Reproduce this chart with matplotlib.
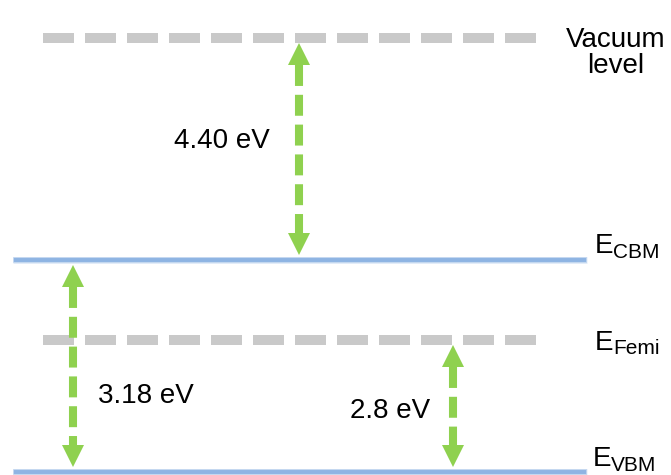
import numpy as np
import matplotlib
matplotlib.use('Agg')
import matplotlib.pyplot as plt

plt.rcParams['font.family'] = ['Liberation Sans', 'DejaVu Sans']

# gaps as printed on the diagram (eV)
gap_text = ['4.40', '3.18', '2.8']
work_fn, band_gap, fermi_above_vbm = [float(t) for t in gap_text]

# band edges, vacuum level taken as zero
e_vac = 0.0
e_cbm = e_vac - work_fn
e_vbm = e_cbm - band_gap
e_fermi = e_vbm + fermi_above_vbm

level_subs = ['CBM', 'Femi', 'VBM']

# the sketch is not to scale: piecewise stretch from eV to pixel height
e_knots = np.array([e_vbm - 0.064, e_vbm, e_fermi, e_cbm, e_vac, e_vac + 0.753])
px_knots = np.array([0, 3, 135, 215, 437, 475])


def fwd(e):
    return np.interp(e, e_knots, px_knots)


def inv(p):
    return np.interp(p, px_knots, e_knots)


def at(e, dpx):
    # energy that sits dpx pixels above level e on the page
    return inv(fwd(e) + dpx)


gray = '#C9C9C9'
blue = '#8EB4E3'
green = '#8FD14F'

fig = plt.figure(figsize=(6.71, 4.75), dpi=100)
ax = fig.add_axes([0, 0, 1, 1])
ax.set_yscale('function', functions=(fwd, inv))
ax.set_xlim(0, 671)
ax.set_ylim(e_knots[0], e_knots[-1])
ax.axis('off')

# dashed grey levels (vacuum, Fermi)
for e in (e_vac, e_fermi):
    ax.plot([43, 536], [e, e], color=gray, lw=7.2, dashes=(3.1, 1.1),
            dash_capstyle='butt', zorder=2)

# band edges, soft edged
for e in (e_cbm, e_vbm):
    for lw, a in ((5.0, 0.25), (4.0, 0.45)):
        ax.plot([13, 587], [e, e], color=blue, lw=lw, alpha=a,
                solid_capstyle='butt', zorder=2)
    ax.plot([14, 586], [e, e], color=blue, lw=2.8,
            solid_capstyle='butt', zorder=2)


def double_arrow(x, e_top, e_bot, gap=5, head_len=22, half_w=11):
    y_top = fwd(e_top) - gap
    y_bot = fwd(e_bot) + gap
    ax.plot([x, x], inv(np.array([y_top - head_len, y_bot + head_len])),
            color=green, lw=5.8, dashes=(2.6, 1.1), dash_capstyle='butt',
            zorder=3)
    ax.fill([x, x - half_w, x + half_w],
            inv(np.array([y_top, y_top - head_len, y_top - head_len])),
            color=green, lw=0, zorder=4)
    ax.fill([x, x - half_w, x + half_w],
            inv(np.array([y_bot, y_bot + head_len, y_bot + head_len])),
            color=green, lw=0, zorder=4)
    return (y_top + y_bot) / 2


fs = 20
mid = double_arrow(299, e_vac, e_cbm)
ax.text(270, inv(mid + 1), gap_text[0] + ' eV', fontsize=fs,
        ha='right', va='baseline')

mid = double_arrow(73, e_cbm, e_vbm)
ax.text(98, inv(mid - 37), gap_text[1] + ' eV', fontsize=fs,
        ha='left', va='baseline')

mid = double_arrow(453, e_fermi, e_vbm)
ax.text(430, inv(mid - 12), gap_text[2] + ' eV', fontsize=fs,
        ha='right', va='baseline')

# level names on the right
ax.text(616, at(e_vac, -9), 'Vacuum', fontsize=fs, ha='center', va='baseline')
ax.text(616, at(e_vac, -35), 'level', fontsize=fs, ha='center', va='baseline')

label_pos = [(e_cbm, 595, 7, 2), (e_fermi, 595, -10, -14), (e_vbm, 593, 6, 1)]
for (e, x, dy_e, dy_sub), sub in zip(label_pos, level_subs):
    ax.text(x, at(e, dy_e), 'E', fontsize=fs, ha='left', va='baseline')
    ax.text(x + 18, at(e, dy_sub), sub, fontsize=15, ha='left', va='baseline')

fig.savefig('out.png', dpi=100)
